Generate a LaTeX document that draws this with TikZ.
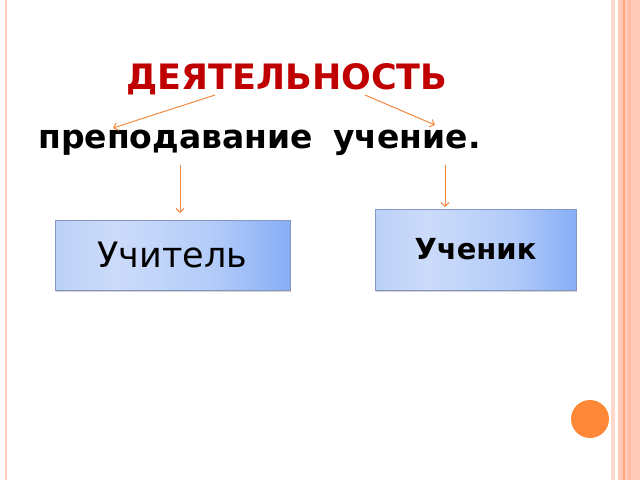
\documentclass[tikz,border=0pt]{standalone}
\usepackage{fontspec}
\setmainfont{DejaVu Sans}
\usetikzlibrary{arrows.meta,shadows}
\definecolor{titlered}{HTML}{C00000}
\definecolor{arrorange}{HTML}{F58840}
\definecolor{bandpink}{HTML}{FFCBB8}
\definecolor{bandlight}{HTML}{FFD8CB}
\definecolor{bandstripe}{HTML}{FFA878}
\definecolor{bandmid}{HTML}{FFBCA2}
\definecolor{dotorange}{HTML}{FF8838}
\definecolor{boxleft}{HTML}{BCD0F6}
\definecolor{boxmid}{HTML}{CCDBFA}
\definecolor{boxmidb}{HTML}{B4CCF9}
\definecolor{boxright}{HTML}{88AEF6}
\definecolor{boxborder}{HTML}{8398C0}
\pgfdeclarehorizontalshading{boxshade}{100bp}{color(0bp)=(boxleft); color(25bp)=(boxleft); color(38bp)=(boxmid); color(58bp)=(boxmidb); color(75bp)=(boxright); color(100bp)=(boxright)}
\tikzset{
  conn/.style={draw=arrorange, line width=1pt, -{Straight Barb[length=4pt,width=8pt]}},
  bluebox/.style={draw=boxborder, line width=0.7pt, shading=boxshade,
    drop shadow={shadow xshift=1pt, shadow yshift=-1.8pt, fill=black!35, opacity=0.5},
    inner sep=0pt, outer sep=0pt},
  word/.style={font=\bfseries\fontsize{33}{38}\selectfont, inner sep=0pt, anchor=base west},
}
\begin{document}
\begin{tikzpicture}[x=1pt,y=-1pt]
\useasboundingbox (0,0) rectangle (640,480);
% slide decoration
\fill[bandpink] (4.5,0) rectangle (7,480);
\fill[bandlight] (611,0) rectangle (612.5,480);
\fill[bandlight] (613,0) rectangle (614.5,480);
\fill[bandpink] (618,0) rectangle (640,480);
\fill[bandstripe] (622.5,0) rectangle (625,480);
\fill[bandmid] (628,0) rectangle (631,480);
\fill[dotorange] (590,419) circle (19);
% texts
\node[font=\bfseries\fontsize{35}{40}\selectfont, text=titlered, inner sep=0pt, anchor=base] (title) at (287,89) {ДЕЯТЕЛЬНОСТЬ};
\node[word] (teach) at (38,148) {преподавание};
\node[word] (learn) at (333,148) {учение.};
% boxes
\node[bluebox, minimum width=235pt, minimum height=70pt, font=\fontsize{35}{40}\selectfont] (teacher) at (172.5,255) {Учитель};
\node[bluebox, minimum width=201pt, minimum height=81pt, font=\bfseries\fontsize{29}{34}\selectfont] (student) at (475.5,249.5) {\raisebox{2pt}{Ученик}};
% connectors
\coordinate (t1) at (215,95);
\coordinate (t2) at (365,95);
\coordinate (p1) at (113,128);
\coordinate (u1) at (435,125);
\coordinate (d1) at (180,165);
\coordinate (d2) at (445,165);
\coordinate (e1) at (180,213);
\coordinate (e2) at (445,207);
\draw[conn] (t1) -- (p1);
\draw[conn] (t2) -- (u1);
\draw[conn] (d1) -- (e1);
\draw[conn] (d2) -- (e2);
\end{tikzpicture}
\end{document}
